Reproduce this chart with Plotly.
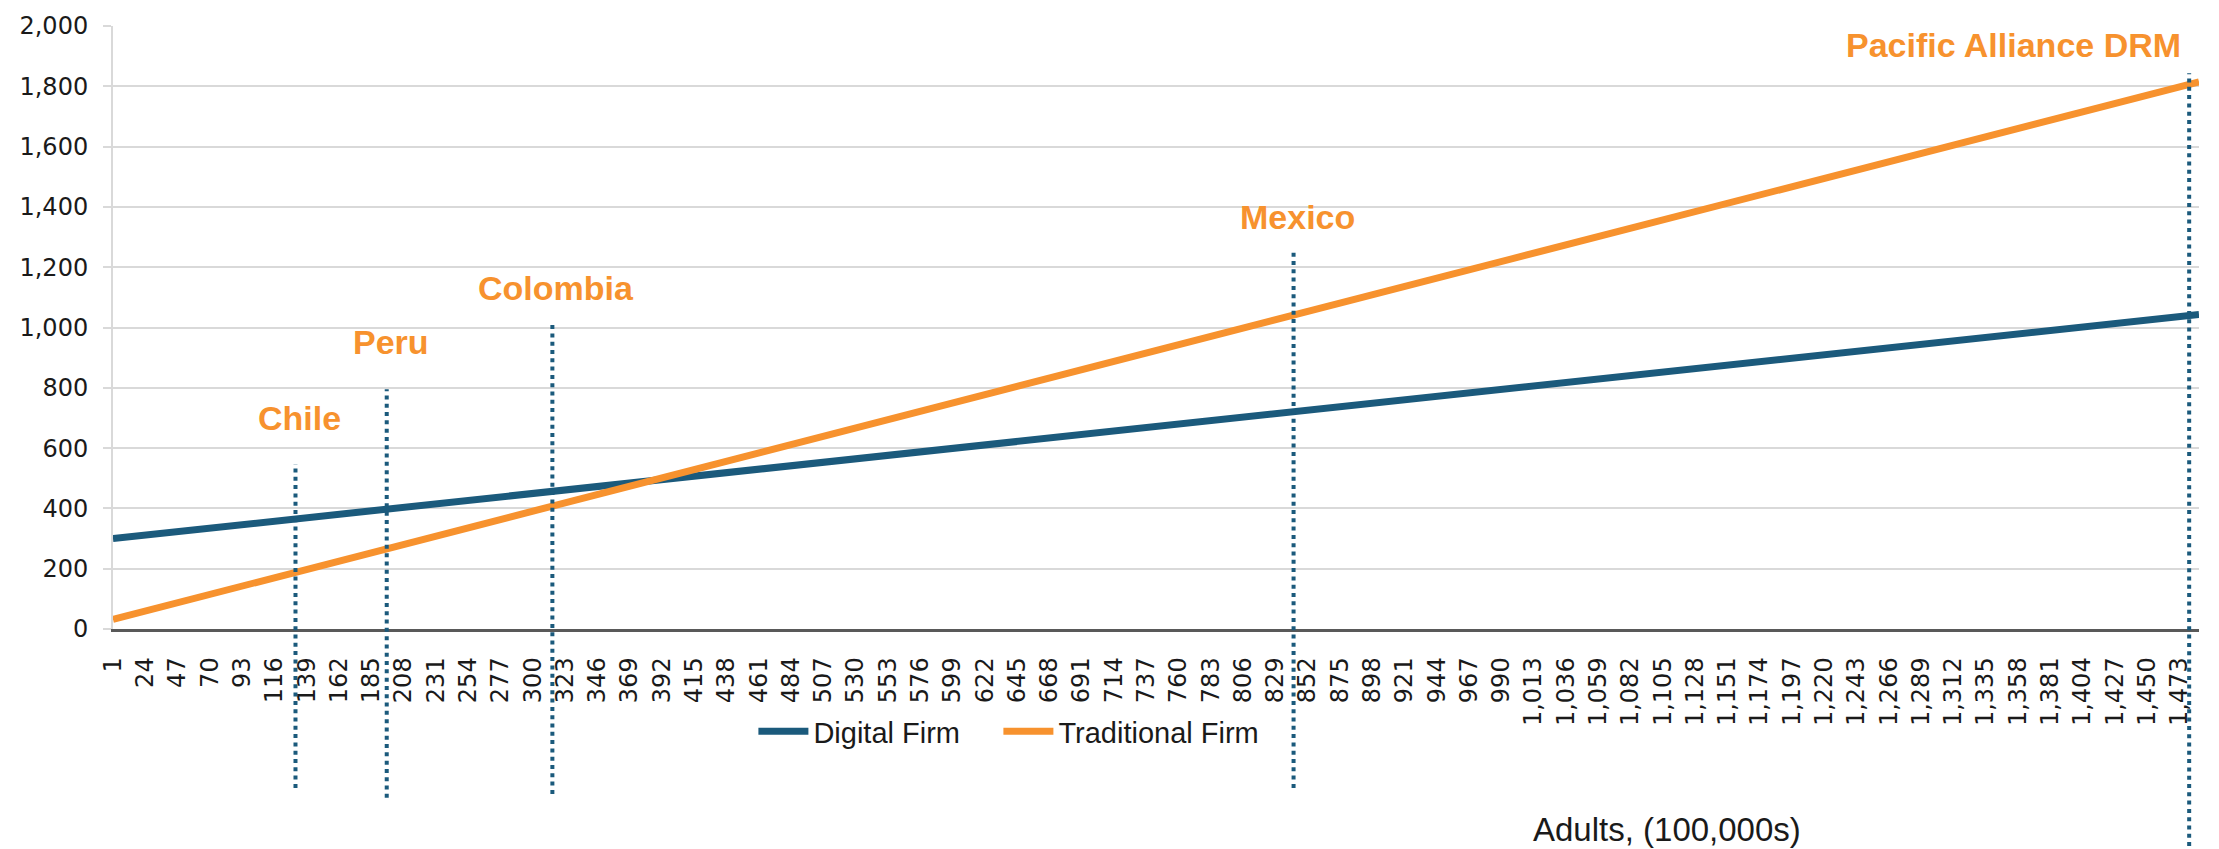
import plotly.graph_objects as go

# Adults (100,000s) at which each market sits on the cost curves
countries = ["Chile", "Peru", "Colombia", "Mexico", "Pacific Alliance DRM"]
country_adults = [131, 196, 314, 842, 1480]

# Cost curves sampled at the start, at each market and at the end of the axis
curve_adults = [1, 131, 196, 314, 842, 1480, 1487]
digital_firm = [300, 365, 398, 457, 721, 1040, 1043]
traditional_firm = [32, 188, 266, 408, 1041, 1807, 1815]

# Extent of each market's dotted marker and height of its label (y units)
marker_top = [547, 795, 1018, 1250, 1843]
marker_bottom = [-527, -560, -547, -527, -720]
label_y = [700, 952, 1132, 1366, 1936]

x_tick_values = [1, 24, 47, 70, 93, 116, 139, 162, 185, 208, 231, 254, 277, 300,
                 323, 346, 369, 392, 415, 438, 461, 484, 507, 530, 553, 576, 599,
                 622, 645, 668, 691, 714, 737, 760, 783, 806, 829, 852, 875, 898,
                 921, 944, 967, 990, 1013, 1036, 1059, 1082, 1105, 1128, 1151,
                 1174, 1197, 1220, 1243, 1266, 1289, 1312, 1335, 1358, 1381, 1404,
                 1427, 1450, 1473]

Y_MAX = 2000
BLUE = "#1B5A7C"
ORANGE = "#F7922E"
GRID = "#D9D9D9"
TEXT = "#1A1A1A"

fig = go.Figure()
fig.add_trace(go.Scatter(x=curve_adults, y=digital_firm, mode="lines",
                         name="Digital Firm", legendwidth=180,
                         line=dict(color=BLUE, width=7)))
fig.add_trace(go.Scatter(x=curve_adults, y=traditional_firm, mode="lines",
                         name="Traditional Firm", line=dict(color=ORANGE, width=7)))


def to_paper(v):
    return v / Y_MAX


for name, adults, top, bottom, ly in zip(countries, country_adults,
                                         marker_top, marker_bottom, label_y):
    fig.add_shape(type="line", xref="x", yref="paper",
                  x0=adults, x1=adults, y0=to_paper(bottom), y1=to_paper(top),
                  line=dict(color=BLUE, width=4, dash="4px,4.3px"), layer="above")
    last = name == countries[-1]
    fig.add_annotation(x=adults, y=ly, xref="x", yref="y", text=name,
                       showarrow=False,
                       xanchor="right" if last else "center",
                       xshift=-6 if last else 4, yanchor="middle",
                       font=dict(family="Liberation Sans, Arial, sans-serif",
                                 size=34, color=ORANGE, weight="bold"))

fig.add_annotation(x=0.745, y=-0.332, xref="paper", yref="paper",
                   text="Adults, (100,000s)", showarrow=False,
                   xanchor="center", yanchor="middle",
                   font=dict(family="Liberation Sans, Arial, sans-serif", size=33, color=TEXT))

fig.update_layout(
    width=2219, height=849,
    margin=dict(l=113, r=20, t=18, b=220),
    paper_bgcolor="white", plot_bgcolor="white",
    showlegend=True,
    legend=dict(orientation="h", x=0.307, y=-0.17, xanchor="left", yanchor="middle",
                font=dict(family="Liberation Sans, Arial, sans-serif", size=29, color=TEXT),
                itemwidth=50, bgcolor="rgba(0,0,0,0)"),
    xaxis=dict(range=[1, 1487], tickmode="array", tickvals=x_tick_values,
               tickformat=",d", tickangle=-90, showgrid=False, zeroline=False,
               showline=True, linecolor="#595959", linewidth=2.5, ticks="",
               ticklabelstandoff=16,
               tickfont=dict(family="DejaVu Sans", size=24, color=TEXT)),
    yaxis=dict(range=[0, Y_MAX], dtick=200, tickformat=",", showgrid=True,
               gridcolor=GRID, gridwidth=2, zeroline=False, showline=True,
               linecolor=GRID, linewidth=2, ticks="outside", ticklen=8,
               tickcolor=GRID, tickwidth=2, ticklabelstandoff=10,
               tickfont=dict(family="DejaVu Sans", size=24, color=TEXT)),
)

fig.write_html("out.html")
